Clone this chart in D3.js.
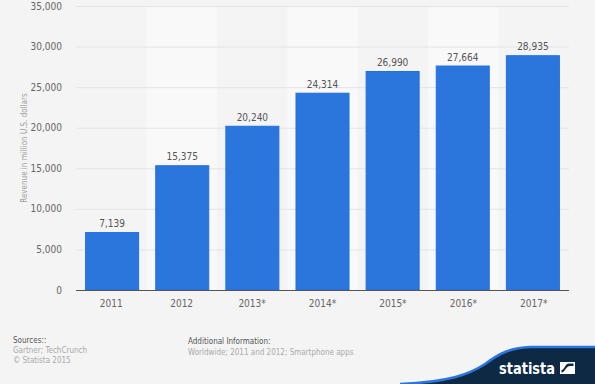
<!DOCTYPE html>
<html>
<head>
<meta charset="utf-8">
<script src="https://cdn.jsdelivr.net/npm/d3@7"></script>
<style>
  html, body { margin: 0; padding: 0; background: #f4f4f4; }
  svg { display: block; }
  text { font-family: "Liberation Sans Narrow", "DejaVu Sans Condensed", sans-serif; }
</style>
</head>
<body>
<svg id="chart" width="595" height="384"></svg>
<script>
// chart data
const years = ["2011", "2012", "2013*", "2014*", "2015*", "2016*", "2017*"];
const revenue = [7139, 15375, 20240, 24314, 26990, 27664, 28935];
const yTicks = [0, 5000, 10000, 15000, 20000, 25000, 30000, 35000];

const svg = d3.select("#chart");
const W = 595, H = 384;
const margin = {top: 6, right: 26, bottom: 94, left: 76};

svg.append("rect").attr("width", W).attr("height", H).attr("fill", "#f4f4f4");

const x = d3.scaleBand()
  .domain(years)
  .range([margin.left, W - margin.right])
  .paddingInner(0.23)
  .paddingOuter(0.13);

const xBand = d3.scaleBand()
  .domain(years)
  .range([margin.left, W - margin.right]);

const y = d3.scaleLinear()
  .domain([0, 35000])
  .range([H - margin.bottom, margin.top]);

const fmt = d3.format(",");

// alternate column bands
svg.append("g")
  .selectAll("rect")
  .data(years.filter((d, i) => i % 2 === 1))
  .join("rect")
  .attr("x", d => xBand(d))
  .attr("y", y(35000))
  .attr("width", xBand.bandwidth())
  .attr("height", y(0) - y(35000))
  .attr("fill", "#f9f9f9");

// grid lines
svg.append("g")
  .selectAll("line")
  .data(yTicks.filter(d => d > 0))
  .join("line")
  .attr("x1", margin.left)
  .attr("x2", W - margin.right)
  .attr("y1", d => y(d) + 0.5)
  .attr("y2", d => y(d) + 0.5)
  .attr("stroke", "#e4e4e4")
  .attr("stroke-width", 1);

// y tick labels
svg.append("g")
  .selectAll("text")
  .data(yTicks)
  .join("text")
  .attr("x", margin.left - 14)
  .attr("y", d => y(d))
  .attr("dy", "0.35em")
  .attr("text-anchor", "end")
  .attr("font-size", 10)
  .attr("fill", "#666")
  .text(d => fmt(d));

// axis title
svg.append("text")
  .attr("transform", `translate(27,${(y(0) + y(35000)) / 2}) rotate(-90)`)
  .attr("text-anchor", "middle")
  .attr("font-size", 8)
  .attr("fill", "#a0a0a0")
  .text("Revenue in million U.S. dollars");

// bars
svg.append("g")
  .selectAll("rect")
  .data(revenue)
  .join("rect")
  .attr("x", (d, i) => x(years[i]) + 0.5)
  .attr("y", d => y(d) + 0.5)
  .attr("width", x.bandwidth() - 1)
  .attr("height", d => y(0) - y(d) - 0.5)
  .attr("fill", "#2a76dd")
  .attr("stroke", "#1f6fe5")
  .attr("stroke-width", 1);

// value labels
svg.append("g")
  .selectAll("text")
  .data(revenue)
  .join("text")
  .attr("x", (d, i) => x(years[i]) + x.bandwidth() / 2)
  .attr("y", d => y(d) - 5)
  .attr("text-anchor", "middle")
  .attr("font-size", 10)
  .attr("fill", "#555")
  .text(d => fmt(d));

// x axis line
svg.append("line")
  .attr("x1", margin.left)
  .attr("x2", W - margin.right)
  .attr("y1", y(0) + 0.5)
  .attr("y2", y(0) + 0.5)
  .attr("stroke", "#555")
  .attr("stroke-width", 1);

// x labels
svg.append("g")
  .selectAll("text")
  .data(years)
  .join("text")
  .attr("x", d => xBand(d) + xBand.bandwidth() / 2)
  .attr("y", y(0) + 17)
  .attr("text-anchor", "middle")
  .attr("font-size", 10)
  .attr("fill", "#666")
  .text(d => d);

// footer
const foot = svg.append("g").attr("font-size", 8);
foot.append("text").attr("x", 13).attr("y", 343).attr("fill", "#555").text("Sources::");
foot.append("text").attr("x", 13).attr("y", 353).attr("fill", "#aaa").text("Gartner; TechCrunch");
foot.append("text").attr("x", 13).attr("y", 363).attr("fill", "#aaa").text("© Statista 2015");
foot.append("text").attr("x", 188).attr("y", 344).attr("fill", "#555").text("Additional Information:");
foot.append("text").attr("x", 188).attr("y", 355).attr("fill", "#aaa").text("Worldwide; 2011 and 2012; Smartphone apps");

// statista logo wave
const curve = "M400,384 C450,382 470,374 485,364 C500,353 510,348 530,347 L595,347";
svg.append("path").attr("d", curve + " L595,384 Z").attr("fill", "#0d2944");
svg.append("path")
  .attr("d", curve)
  .attr("fill", "none")
  .attr("stroke", "#2a76dd")
  .attr("stroke-width", 2.5);

svg.append("text")
  .attr("x", 499)
  .attr("y", 374)
  .attr("font-weight", "bold")
  .attr("font-size", 15)
  .attr("textLength", 56)
  .attr("lengthAdjust", "spacingAndGlyphs")
  .attr("fill", "#fff")
  .text("statista");

const logo = svg.append("g").attr("transform", "translate(560,362)");
logo.append("rect").attr("width", 15).attr("height", 12).attr("fill", "#fff");
logo.append("path")
  .attr("d", "M1.5,10.5 C5,10.5 6,4 10,4 L13.5,4 L13.5,1.5 L9,1.5 C5,1.5 4.5,8 1.5,8 Z")
  .attr("fill", "#0d2944");
</script>
</body>
</html>
